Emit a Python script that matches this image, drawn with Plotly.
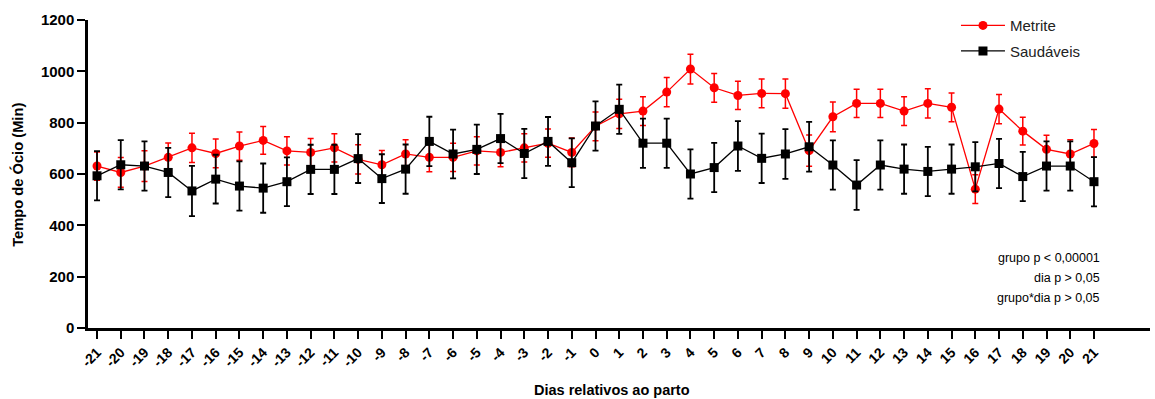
import plotly.graph_objects as go

days = list(range(-21, 22))

metrite = [631, 606, 631, 665, 702, 680, 709, 731, 690, 684, 702, 657, 636, 678,
           665, 665, 690, 684, 702, 720, 684, 786, 834, 845, 919, 1009, 936, 906,
           914, 913, 691, 823, 875, 875, 845, 875, 860, 541, 853, 767, 696, 678, 719]
metrite_err = [55, 58, 60, 56, 57, 56, 55, 54, 55, 54, 55, 57, 56, 55,
               56, 55, 55, 56, 55, 55, 56, 56, 57, 56, 57, 58, 56, 55,
               56, 57, 61, 58, 55, 55, 56, 57, 56, 56, 57, 54, 55, 55, 54]

saudaveis = [593, 636, 631, 606, 534, 580, 553, 545, 570, 618, 618, 660, 582, 619,
             727, 678, 696, 738, 680, 727, 644, 787, 852, 720, 720, 600, 625, 709,
             661, 678, 706, 635, 557, 635, 619, 610, 619, 628, 641, 590, 631, 631, 570]
saudaveis_err = [96, 96, 96, 96, 98, 95, 96, 96, 95, 96, 96, 95, 95, 96,
                 96, 95, 96, 96, 96, 95, 95, 96, 96, 96, 96, 96, 96, 97,
                 96, 97, 97, 96, 97, 96, 96, 96, 96, 96, 96, 96, 96, 96, 96]

tick_labels = [str(d) for d in days]
y_ticks = [0, 200, 400, 600, 800, 1000, 1200]

stats_lines = ["grupo p < 0,00001", "dia p > 0,05", "grupo*dia p > 0,05"]

FONT = "Liberation Sans, Arial, sans-serif"

fig = go.Figure()
fig.add_trace(go.Scatter(
    x=days, y=metrite, name="Metrite", mode="lines+markers",
    legendgroup="m",
    line=dict(color="#ff0000", width=1.3),
    marker=dict(symbol="circle", size=9, color="#ff0000"),
    error_y=dict(type="data", array=metrite_err, visible=True,
                 color="#ff0000", thickness=1.5, width=3),
))
fig.add_trace(go.Scatter(
    x=days, y=saudaveis, name="Saudáveis", mode="lines+markers",
    legendgroup="s",
    line=dict(color="#000000", width=1.3),
    marker=dict(symbol="square", size=9, color="#000000"),
    error_y=dict(type="data", array=saudaveis_err, visible=True,
                 color="#000000", thickness=1.8, width=3),
))

fig.update_layout(
    width=1155, height=399,
    margin=dict(l=88, r=5, t=20, b=71, autoexpand=False),
    plot_bgcolor="white", paper_bgcolor="white",
    font=dict(family=FONT, color="#000000"),
    showlegend=True,
    legend=dict(x=0.8173, y=0.977, xanchor="left", yanchor="top", yref="container",
                font=dict(size=15, family=FONT, color="#222222"),
                itemwidth=44,
                bgcolor="rgba(0,0,0,0)", tracegroupgap=3),
    xaxis=dict(
        range=[-21.38, 23.36], tickmode="array", tickvals=days, ticktext=tick_labels,
        tickangle=-45, ticks="outside", ticklen=8, tickwidth=2, tickcolor="#000",
        showline=True, linecolor="#000", linewidth=2.5, showgrid=False, zeroline=False,
        automargin=False,
        tickfont=dict(size=14, family=FONT, color="#000", weight="bold"),
    ),
    yaxis=dict(
        range=[0, 1200], tickmode="array", tickvals=y_ticks,
        ticks="outside", ticklen=8, tickwidth=2, tickcolor="#000",
        showline=True, linecolor="#000", linewidth=2.5, showgrid=False, zeroline=False,
        automargin=False,
        tickfont=dict(size=15, family=FONT, color="#000", weight="bold"),
    ),
)

fig.add_annotation(text="<b>Dias relativos ao parto</b>", xref="paper", yref="paper",
                   x=0.493, y=-0.201, xanchor="center", yanchor="middle",
                   showarrow=False, font=dict(size=14.5, family=FONT, color="#000"))
fig.add_annotation(text="<b>Tempo de Ócio (Min)</b>", xref="paper", yref="paper",
                   x=-0.066, y=0.497, xanchor="center", yanchor="middle", textangle=-90,
                   showarrow=False, font=dict(size=14.7, family=FONT, color="#000"))

for txt, yp in zip(stats_lines, [0.227, 0.162, 0.097]):
    fig.add_annotation(text=txt, xref="paper", yref="paper", x=0.955, y=yp,
                       xanchor="right", yanchor="middle", showarrow=False,
                       font=dict(size=12.5, family=FONT, color="#000"))

fig.write_html("out.html", config={"displayModeBar": False},
               post_script="document.body.style.margin='0';document.body.style.padding='0';")
